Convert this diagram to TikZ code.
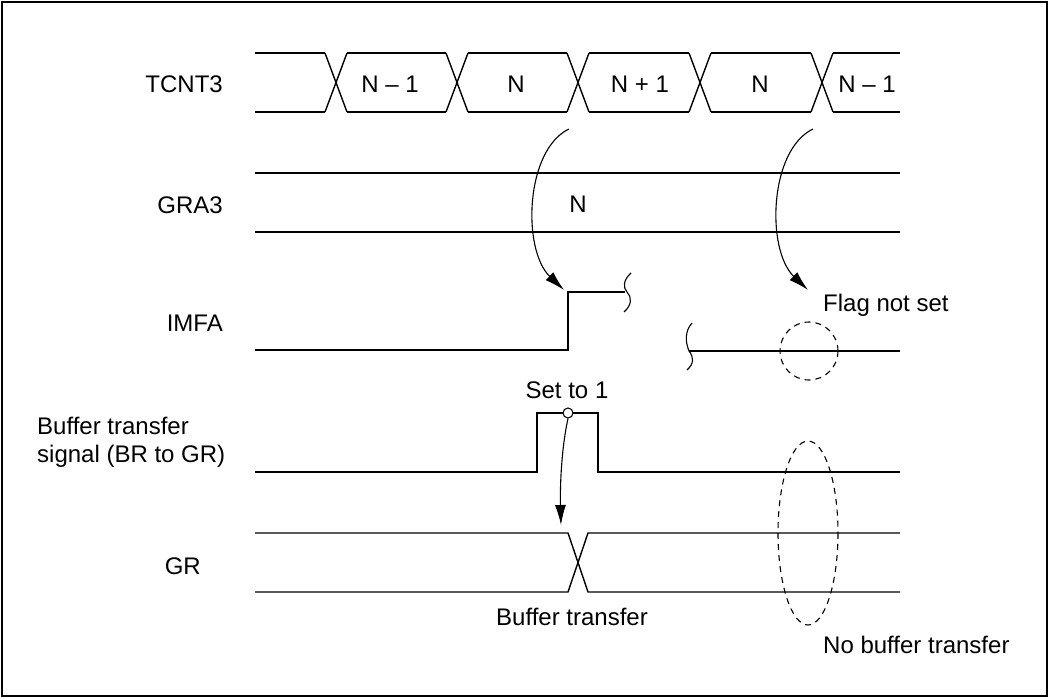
\documentclass[tikz,border=0pt]{standalone}
\usepackage{fontspec}
\setmainfont{Liberation Sans}
\usetikzlibrary{arrows.meta}
\begin{document}
\begin{tikzpicture}[x=1pt,y=-1pt,
  sig/.style={line width=1.4pt, line join=miter},
  thin/.style={line width=1.1pt},
  dsh/.style={line width=1.1pt, dash pattern=on 6pt off 5pt},
  arr/.style={line width=1.1pt, -{Latex[length=20pt,width=11pt]}},
  lbl/.style={inner sep=0pt, font=\fontsize{24}{29}\selectfont}]
\useasboundingbox (0,0) rectangle (1055,698);
\draw[line width=1.8pt] (2,2) rectangle (1047,696);

% row labels
\node[lbl, anchor=base east] (lt) at (223,93) {TCNT3};
\node[lbl, anchor=base east] (lg) at (223,213) {GRA3};
\node[lbl, anchor=base east] (li) at (223,331) {IMFA};
\node[lbl, anchor=base west] (lb1) at (37,434) {Buffer transfer};
\node[lbl, anchor=base west] (lb2) at (37,462) {signal (BR to GR)};
\node[lbl, anchor=base east] (lgr) at (201,574) {GR};

% TCNT3 bus
\foreach \c in {336,457,578,700,822}{
  \draw[sig] (\c-11,53) -- (\c+11,112);
  \draw[sig] (\c-11,112) -- (\c+11,53);
}
\foreach \a/\b in {255/325,347/446,468/567,589/689,711/811,833/900}{
  \draw[sig] (\a,53) -- (\b,53);
  \draw[sig] (\a,112) -- (\b,112);
}
\node[lbl, anchor=base] (v1) at (390,93) {N -- 1};
\node[lbl, anchor=base] (v2) at (516,93) {N};
\node[lbl, anchor=base] (v3) at (640,93) {N + 1};
\node[lbl, anchor=base] (v4) at (760,93) {N};
\node[lbl, anchor=base] (v5) at (867,93) {N -- 1};

% GRA3
\draw[sig] (255,173) -- (900,173);
\draw[sig] (255,232) -- (900,232);
\node[lbl, anchor=base] (gn) at (578,212) {N};

% IMFA
\draw[sig] (255,350) -- (568,350) -- (568,292) -- (625,292);
\draw[thin] (631,273) .. controls (623,280) and (623,288) .. (627,292)
            .. controls (632,297) and (632,305) .. (624,312);
\draw[thin] (692,323) .. controls (685,331) and (685,341) .. (689,351)
            .. controls (694,357) and (694,364) .. (687,370);
\draw[sig] (689,351) -- (900,351);
\node[dsh, draw, circle, minimum size=58pt, inner sep=0pt] (fc) at (809,351) {};
\node[lbl, anchor=base west] (fl) at (823,311) {Flag not set};

% arrows from TCNT3
\coordinate (a1s) at (569,129);
\coordinate (a1e) at (564,290);
\coordinate (a2s) at (813,129);
\coordinate (a2e) at (808,290);
\draw[arr] (a1s) .. controls (525,150) and (522,250) .. (a1e);
\draw[arr] (a2s) .. controls (769,150) and (766,250) .. (a2e);

% Buffer transfer signal
\draw[sig] (255,472) -- (537,472) -- (537,413) -- (598,413) -- (598,472) -- (900,472);
\node[thin, draw, circle, minimum size=10pt, inner sep=0pt, fill=white] (sc) at (568,413) {};
\node[lbl, anchor=base] (st) at (567,398) {Set to 1};

% GR
\draw[sig] (255,533) -- (568,533) -- (588,592) -- (900,592);
\draw[sig] (255,592) -- (568,592) -- (588,533) -- (900,533);
\coordinate (a3e) at (561,525);
\draw[arr] (sc.south) .. controls (561,450) and (560,490) .. (a3e);
\node[lbl, anchor=base] (bt) at (572,625) {Buffer transfer};

% no transfer ellipse
\draw[dsh] (808,533) ellipse [x radius=30, y radius=92];
\node[lbl, anchor=base west] (nb) at (823,653) {No buffer transfer};
\end{tikzpicture}
\end{document}
